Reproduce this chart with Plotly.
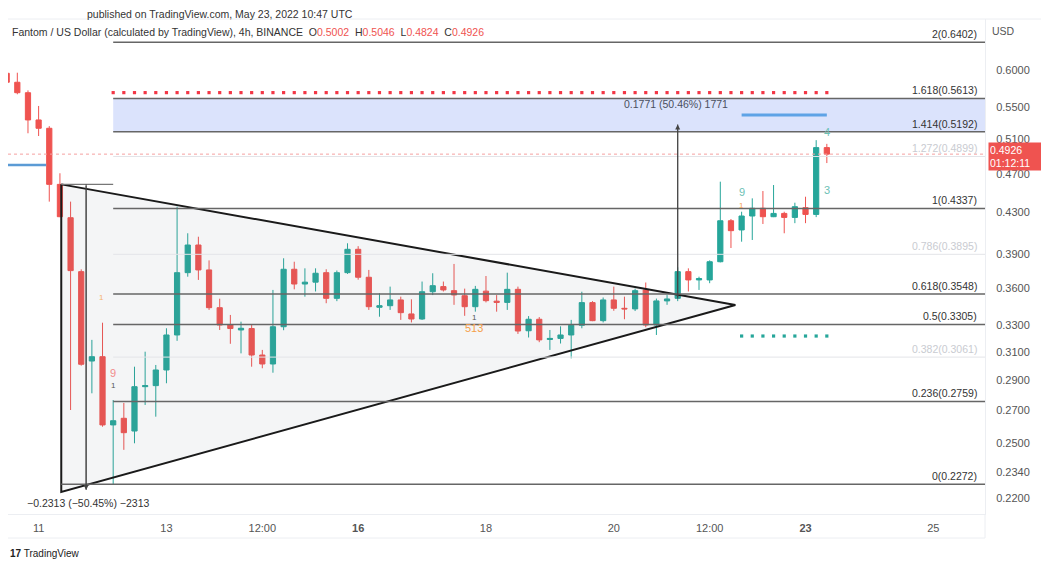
import numpy as np
import pandas as pd
import plotly.graph_objects as go

# 4h candles, FTM/USD
times = pd.date_range("2022-05-10 12:00", periods=78, freq="4h")

opens = [0.5954, 0.5830, 0.5689, 0.5337, 0.5234, 0.4589, 0.4244, 0.3740, 0.3033, 0.3064,
         0.2611, 0.2652, 0.2574, 0.2856, 0.2863, 0.2970, 0.3224, 0.3731, 0.3981, 0.3755,
         0.3437, 0.3300, 0.3262, 0.3273, 0.3076, 0.3012, 0.3287, 0.3761, 0.3633, 0.3649,
         0.3731, 0.3513, 0.3731, 0.3941, 0.3691, 0.3440, 0.3453, 0.3500, 0.3387, 0.3347,
         0.3568, 0.3611, 0.3577, 0.3535, 0.3445, 0.3573, 0.3490, 0.3480, 0.3588, 0.3256,
         0.3345, 0.3190, 0.3198, 0.3224, 0.3298, 0.3478, 0.3334, 0.3500, 0.3432, 0.3427,
         0.3583, 0.3300, 0.3492, 0.3513, 0.3740, 0.3668, 0.3668, 0.3828, 0.4214, 0.4124,
         0.4261, 0.4339, 0.4254, 0.4287, 0.4247, 0.4345, 0.4277, 0.5002]
highs = [0.6140, 0.5962, 0.5720, 0.5515, 0.5260, 0.4710, 0.4407, 0.3760, 0.3187, 0.3318,
         0.2768, 0.2749, 0.2993, 0.3100, 0.3005, 0.3275, 0.4355, 0.4092, 0.4059, 0.3840,
         0.3510, 0.3379, 0.3326, 0.3300, 0.3113, 0.3583, 0.3859, 0.3828, 0.3769, 0.3769,
         0.3761, 0.3750, 0.3997, 0.3970, 0.3755, 0.3555, 0.3611, 0.3527, 0.3505, 0.3654,
         0.3726, 0.3654, 0.3808, 0.3594, 0.3617, 0.3702, 0.3540, 0.3731, 0.3611, 0.3370,
         0.3362, 0.3262, 0.3290, 0.3340, 0.3568, 0.3490, 0.3520, 0.3611, 0.3527, 0.3594,
         0.3646, 0.3511, 0.3540, 0.3778, 0.3769, 0.3696, 0.3840, 0.4618, 0.4231, 0.4304,
         0.4441, 0.4518, 0.4582, 0.4304, 0.4396, 0.4458, 0.5090, 0.5046]
lows = [0.5659, 0.5668, 0.5173, 0.5140, 0.4407, 0.4250, 0.2704, 0.3000, 0.2812, 0.2600,
        0.2272, 0.2463, 0.2501, 0.2736, 0.2662, 0.2879, 0.3180, 0.3696, 0.3668, 0.3419,
        0.3262, 0.3158, 0.3088, 0.2993, 0.2982, 0.2951, 0.3260, 0.3588, 0.3527, 0.3570,
        0.3473, 0.3490, 0.3720, 0.3670, 0.3419, 0.3365, 0.3419, 0.3340, 0.3320, 0.3340,
        0.3540, 0.3570, 0.3460, 0.3372, 0.3405, 0.3480, 0.3405, 0.3419, 0.3232, 0.3205,
        0.3170, 0.3113, 0.3160, 0.3052, 0.3275, 0.3330, 0.3320, 0.3412, 0.3345, 0.3410,
        0.3283, 0.3224, 0.3460, 0.3490, 0.3570, 0.3583, 0.3640, 0.3822, 0.3953, 0.4012,
        0.4028, 0.4182, 0.4250, 0.4092, 0.4190, 0.4190, 0.4250, 0.4824]
closes = [0.5830, 0.5689, 0.5337, 0.5234, 0.4589, 0.4254, 0.3749, 0.3010, 0.3064, 0.2611,
          0.2637, 0.2564, 0.2856, 0.2863, 0.2970, 0.3224, 0.3731, 0.3981, 0.3755, 0.3437,
          0.3300, 0.3273, 0.3275, 0.3076, 0.3012, 0.3287, 0.3761, 0.3633, 0.3649, 0.3726,
          0.3513, 0.3731, 0.3941, 0.3691, 0.3445, 0.3453, 0.3500, 0.3397, 0.3347, 0.3568,
          0.3619, 0.3583, 0.3541, 0.3445, 0.3588, 0.3494, 0.3480, 0.3588, 0.3254, 0.3345,
          0.3187, 0.3198, 0.3224, 0.3298, 0.3478, 0.3334, 0.3500, 0.3432, 0.3427, 0.3577,
          0.3300, 0.3492, 0.3508, 0.3740, 0.3668, 0.3680, 0.3828, 0.4214, 0.4117, 0.4261,
          0.4339, 0.4254, 0.4287, 0.4247, 0.4355, 0.4277, 0.5002, 0.4926]

# fibonacci extension levels
fib_ratios = ["2", "1.618", "1.414", "1.272", "1", "0.786", "0.618", "0.5", "0.382", "0.236", "0"]
fib_prices = [0.6402, 0.5613, 0.5192, 0.4899, 0.4337, 0.3895, 0.3548, 0.3305, 0.3061, 0.2759, 0.2272]
fib_faded = ["1.272", "0.786", "0.382"]

y_ticks = [0.60, 0.55, 0.51, 0.47, 0.43, 0.39, 0.36, 0.33, 0.31, 0.29, 0.27, 0.25, 0.234, 0.22]
x_ticks = ["2022-05-11", "2022-05-13", "2022-05-14 12:00", "2022-05-16", "2022-05-18",
           "2022-05-20", "2022-05-21 12:00", "2022-05-23", "2022-05-25"]
x_labels = ["11", "13", "12:00", "<b>16</b>", "18", "20", "12:00", "<b>23</b>", "25"]

x_range = ["2022-05-10 12:30", "2022-05-25 19:24"]
y_range = [0.2119, 0.6762]

fib_start = "2022-05-12 04:00"
zero_start = "2022-05-11 08:30"

# triangle drawing
tri_x = ["2022-05-11 08:30", "2022-05-11 08:30", "2022-05-21 21:40", "2022-05-11 08:30"]
tri_y = [0.4589, 0.2231, 0.3459, 0.4589]

# measure tools
drop_x, drop_from, drop_to = "2022-05-11 17:50", 0.4589, 0.2242
rise_x, rise_from, rise_to = "2022-05-21 00:00", 0.3510, 0.5281

red_dots_level = 0.5690
green_dots_level = 0.3216
blue_left_level = 0.4802
blue_right_level = 0.5399
last_price = 0.4926

GREEN = "#26a69a"
RED = "#ef5350"
FONT = "Liberation Sans, Arial, sans-serif"

# the page body has an 8px margin, the figure is sized to fill the rest of the window
W, H = 1041, 555
ML, MR, MT, MB = 0, 64, 11, 49
PW, PH = W - ML - MR, H - MT - MB


def px(p):
    # window x pixel -> paper x
    return (p - 8 - ML) / PW


def py(q):
    # window y pixel -> paper y
    return (MT + PH - (q - 8)) / PH


fig = go.Figure()

# triangle
fig.add_trace(go.Scatter(x=tri_x, y=tri_y, mode="lines", fill="toself",
                         fillcolor="rgba(120,123,134,0.08)",
                         line=dict(color="#1a1a1a", width=2), hoverinfo="skip"))

# blue target zone 1.414 - 1.618
fig.add_trace(go.Scatter(x=[fib_start, x_range[1], x_range[1], fib_start],
                         y=[fib_prices[2], fib_prices[2], fib_prices[1], fib_prices[1]],
                         mode="lines", fill="toself", fillcolor="rgba(91,128,240,0.22)",
                         line=dict(width=0), hoverinfo="skip"))

# fib lines
for r, p in zip(fib_ratios, fib_prices):
    faded = r in fib_faded
    x0 = zero_start if r == "0" else fib_start
    fig.add_trace(go.Scatter(x=[x0, x_range[1]], y=[p, p], mode="lines",
                             line=dict(color="#e3e4e8" if faded else "#666666",
                                       width=1 if faded else 1.5),
                             hoverinfo="skip"))

# current price line
fig.add_trace(go.Scatter(x=x_range, y=[last_price, last_price], mode="lines",
                         line=dict(color="#f5a0a0", width=1, dash="dot"), hoverinfo="skip"))

# measure lines
fig.add_trace(go.Scatter(x=[zero_start, fib_start], y=[drop_from, drop_from], mode="lines",
                         line=dict(color="#777", width=1.2), hoverinfo="skip"))
fig.add_trace(go.Scatter(x=[drop_x, drop_x], y=[drop_from, drop_to], mode="lines",
                         line=dict(color="#444", width=1), hoverinfo="skip"))
fig.add_trace(go.Scatter(x=[rise_x, rise_x], y=[rise_from, rise_to], mode="lines",
                         line=dict(color="#444", width=1), hoverinfo="skip"))

# blue horizontal lines
fig.add_trace(go.Scatter(x=[x_range[0], "2022-05-11 02:50"], y=[blue_left_level] * 2,
                         mode="lines", line=dict(color="#5b9bd5", width=2.5), hoverinfo="skip"))
fig.add_trace(go.Scatter(x=[times[69], times[77]], y=[blue_right_level] * 2,
                         mode="lines", line=dict(color="#5ea3e6", width=3), hoverinfo="skip"))

# dotted levels
fig.add_trace(go.Scatter(x=times[10:], y=[red_dots_level] * len(times[10:]), mode="markers",
                         marker=dict(color="#f23645", size=3.2, symbol="square"), hoverinfo="skip"))
fig.add_trace(go.Scatter(x=times[69:], y=[green_dots_level] * len(times[69:]), mode="markers",
                         marker=dict(color=GREEN, size=3.2, symbol="square"), hoverinfo="skip"))

# candles
fig.add_trace(go.Candlestick(
    x=times, open=opens, high=highs, low=lows, close=closes,
    increasing=dict(line=dict(color=GREEN, width=1), fillcolor=GREEN),
    decreasing=dict(line=dict(color=RED, width=1), fillcolor=RED),
    whiskerwidth=0, hoverinfo="skip"))

annotations = []

# fib labels
for r, p in zip(fib_ratios, fib_prices):
    faded = r in fib_faded
    annotations.append(dict(x=px(979), xref="paper", y=np.log10(p), yref="y",
                            text=f"{r}({p:.4f})", showarrow=False,
                            xanchor="right", yanchor="bottom",
                            font=dict(size=10.5, color="#c9cbd1" if faded else "#333333", family=FONT)))

# measure arrows + texts
annotations.append(dict(x=drop_x, y=np.log10(drop_to), ax=drop_x, ay=np.log10(drop_from),
                        xref="x", yref="y", axref="x", ayref="y", text="", showarrow=True,
                        arrowhead=2, arrowsize=1, arrowwidth=1, arrowcolor="#444"))
annotations.append(dict(x=rise_x, y=np.log10(rise_to), ax=rise_x, ay=np.log10(rise_from),
                        xref="x", yref="y", axref="x", ayref="y", text="", showarrow=True,
                        arrowhead=2, arrowsize=1, arrowwidth=1, arrowcolor="#444"))
annotations.append(dict(x="2022-05-11 18:40", y=np.log10(0.2175), text="\u22120.2313 (\u221250.45%) \u22122313",
                        showarrow=False, font=dict(size=10.5, color="#333", family=FONT)))
annotations.append(dict(x="2022-05-20 23:30", y=np.log10(0.5540), text="0.1771 (50.46%) 1771",
                        showarrow=False, font=dict(size=10.5, color="#4a4f5e", family=FONT)))

# sequential counts
td_marks = [
    ("2022-05-12 04:00", 0.2949, "9", "#f28b8b", 11),
    ("2022-05-12 04:00", 0.2861, "1", "#555", 8),
    ("2022-05-11 23:30", 0.3524, "1", "#f5b36b", 8),
    ("2022-05-17 19:30", 0.3277, "513", "#f5a04a", 11),
    ("2022-05-17 19:30", 0.3355, "1", "#555", 8),
    ("2022-05-22 00:00", 0.4508, "9", "#6cc1b5", 11),
    ("2022-05-22 00:00", 0.4372, "1", "#f5a04a", 8),
    ("2022-05-23 08:00", 0.5189, "4", "#6cc1b5", 11),
    ("2022-05-23 08:00", 0.4529, "3", "#6cc1b5", 11),
]
for tx, ty, tt, tc, ts in td_marks:
    annotations.append(dict(x=tx, y=np.log10(ty), text=tt, showarrow=False,
                            font=dict(size=ts, color=tc, family=FONT)))

# header, price box, footer
annotations.append(dict(x=px(85), xref="paper", y=py(14), yref="paper",
                        xanchor="left", yanchor="middle",
                        text="published on TradingView.com, May 23, 2022 10:47 UTC",
                        showarrow=False, font=dict(size=10.5, color="#333", family=FONT)))
annotations.append(dict(x=px(10), xref="paper", y=py(32), yref="paper",
                        xanchor="left", yanchor="middle",
                        text="Fantom / US Dollar (calculated by TradingView), 4h, BINANCE  "
                             "O<span style='color:#ef5350'>0.5002</span>  "
                             "H<span style='color:#ef5350'>0.5046</span>  "
                             "L<span style='color:#ef5350'>0.4824</span>  "
                             "C<span style='color:#ef5350'>0.4926</span>",
                        showarrow=False, font=dict(size=10.5, color="#333", family=FONT)))
annotations.append(dict(x=px(1003), xref="paper", y=py(31), yref="paper",
                        xanchor="center", yanchor="middle",
                        text="USD", showarrow=False, font=dict(size=10.5, color="#555", family=FONT)))
annotations.append(dict(x=px(988), xref="paper", y=np.log10(last_price), yref="y", xanchor="left",
                        yshift=-2, text="0.4926<br>01:12:11", showarrow=False, bgcolor=RED, align="left",
                        width=56, height=25, borderpad=1,
                        font=dict(size=10.5, color="white", family=FONT)))
annotations.append(dict(x=px(8), xref="paper", y=py(553), yref="paper",
                        xanchor="left", yanchor="middle",
                        text="<b>17</b> TradingView", showarrow=False,
                        font=dict(size=10, color="#222", family=FONT)))

fig.update_layout(
    width=W, height=H,
    margin=dict(l=ML, r=MR, t=MT, b=MB),
    paper_bgcolor="white", plot_bgcolor="white",
    showlegend=False,
    annotations=annotations,
    shapes=[
        dict(type="line", xref="paper", yref="paper", x0=0, x1=px(1049), y0=1.0, y1=1.0,
             line=dict(color="#eceef2", width=1)),
        dict(type="line", xref="paper", yref="paper", x0=0, x1=1.0, y0=py(538), y1=py(538),
             line=dict(color="#eceef2", width=1)),
        dict(type="line", xref="paper", yref="paper", x0=1.0, x1=1.0, y0=py(538), y1=0,
             line=dict(color="#eceef2", width=1)),
    ],
    xaxis=dict(type="date", range=x_range, tickvals=x_ticks, ticktext=x_labels,
               showgrid=False, zeroline=False, showline=True, linecolor="#eceef2",
               ticks="", ticklabelstandoff=4, tickfont=dict(size=11, color="#555", family=FONT),
               rangeslider=dict(visible=False), fixedrange=True),
    yaxis=dict(type="log", side="right", range=[np.log10(y_range[0]), np.log10(y_range[1])],
               tickvals=y_ticks, ticktext=[f"{v:.4f}" for v in y_ticks],
               showgrid=False, zeroline=False, showline=True, linecolor="#eceef2",
               ticks="", ticklabelstandoff=8,
               tickfont=dict(size=11, color="#555", family=FONT)),
)

fig.write_html("out.html")
